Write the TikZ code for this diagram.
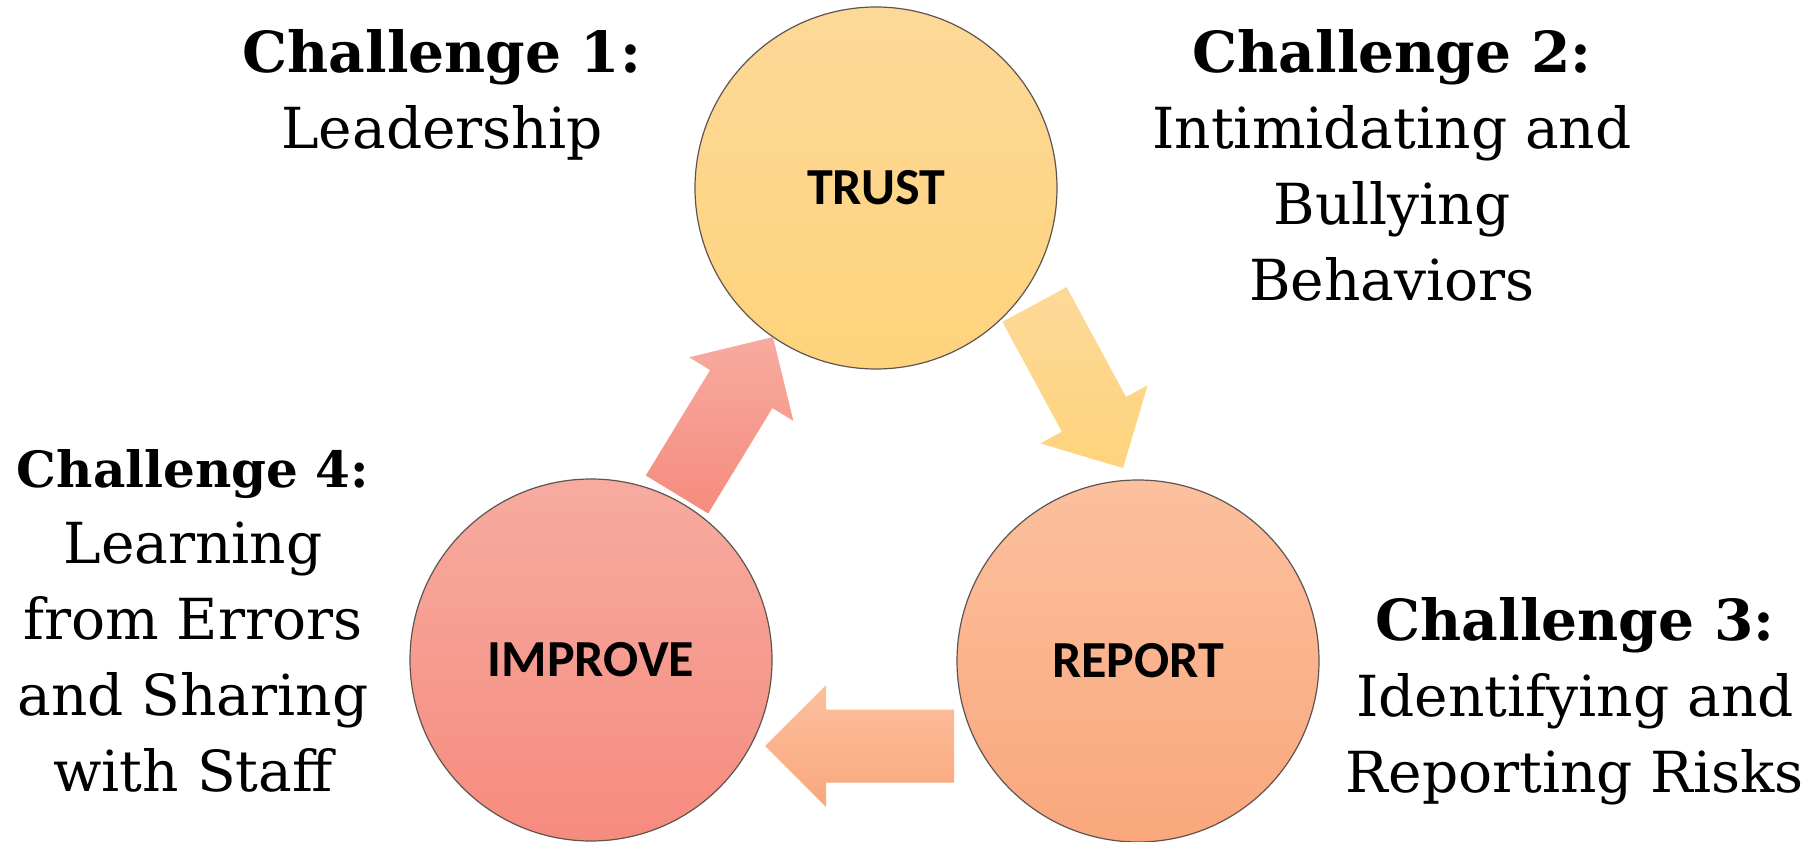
\documentclass[tikz,border=0pt]{standalone}
\usepackage{fontspec}
\setmainfont{DejaVu Serif}
\newfontfamily\hubfont{Carlito}
\usetikzlibrary{calc}

\definecolor{trustTop}{RGB}{253,217,152}
\definecolor{trustBot}{RGB}{254,211,124}
\definecolor{reportTop}{RGB}{251,192,158}
\definecolor{reportBot}{RGB}{250,167,124}
\definecolor{improveTop}{RGB}{247,171,160}
\definecolor{improveBot}{RGB}{246,139,126}
\definecolor{rimColor}{RGB}{95,85,80}

% block arrow from tail coordinate #2 to tip coordinate #3
\newcommand\blockarrow[3]{%
  \coordinate (ba-j) at ($(#3)!61pt!(#2)$);
  \shade[#1] ($(#2)!36.5pt!90:(#3)$) -- ($(ba-j)!36.5pt!-90:(#2)$)
    -- ($(ba-j)!61pt!-90:(#2)$) -- (#3) -- ($(ba-j)!61pt!90:(#2)$)
    -- ($(ba-j)!36.5pt!90:(#2)$) -- ($(#2)!36.5pt!-90:(#3)$) -- cycle;
}

\begin{document}
\begin{tikzpicture}[x=1pt,y=-1pt,
  hub/.style={circle, minimum size=362pt, inner sep=0pt, draw=rimColor,
    line width=1.2pt, font=\hubfont\bfseries\fontsize{52}{60}\selectfont},
  caption/.style={align=center, inner sep=0pt, anchor=north,
    font=\fontsize{56.6}{76}\selectfont},
]
\useasboundingbox (0,0) rectangle (1813,842);
\fill[white] (0,0) rectangle (1813,842);

% the three stages
\node[hub, top color=trustTop, bottom color=trustBot] (trust) at (876,188) {TRUST};
\node[hub, top color=reportTop, bottom color=reportBot] (report) at (1138,661) {REPORT};
\node[hub, top color=improveTop, bottom color=improveBot] (improve) at (591,660) {IMPROVE};

% arrows of the cycle
\coordinate (a1s) at (677,494.5);  \coordinate (a1e) at (773,337);
\coordinate (a2s) at (1034.5,304.5); \coordinate (a2e) at (1123,468);
\coordinate (a3s) at (954,746);    \coordinate (a3e) at (765,746);
\blockarrow{top color=improveTop, bottom color=improveBot}{a1s}{a1e}
\blockarrow{top color=trustTop, bottom color=trustBot}{a2s}{a2e}
\blockarrow{top color=reportTop, bottom color=reportBot}{a3s}{a3e}

% challenges
\node[caption] (c1) at (442,29) {\textbf{Challenge 1:}\\Leadership};
\node[caption] (c2) at (1392,29) {\textbf{Challenge 2:}\\Intimidating and\\Bullying\\Behaviors};
\node[caption] (c3) at (1575,597) {\textbf{Challenge 3:}\\Identifying and\\Reporting Risks};
\node[caption] (c4) at (193,449) {{\fontsize{50}{76}\selectfont\textbf{Challenge 4:}}\\Learning\\from Errors\\and Sharing\\with Staff};
\end{tikzpicture}
\end{document}
